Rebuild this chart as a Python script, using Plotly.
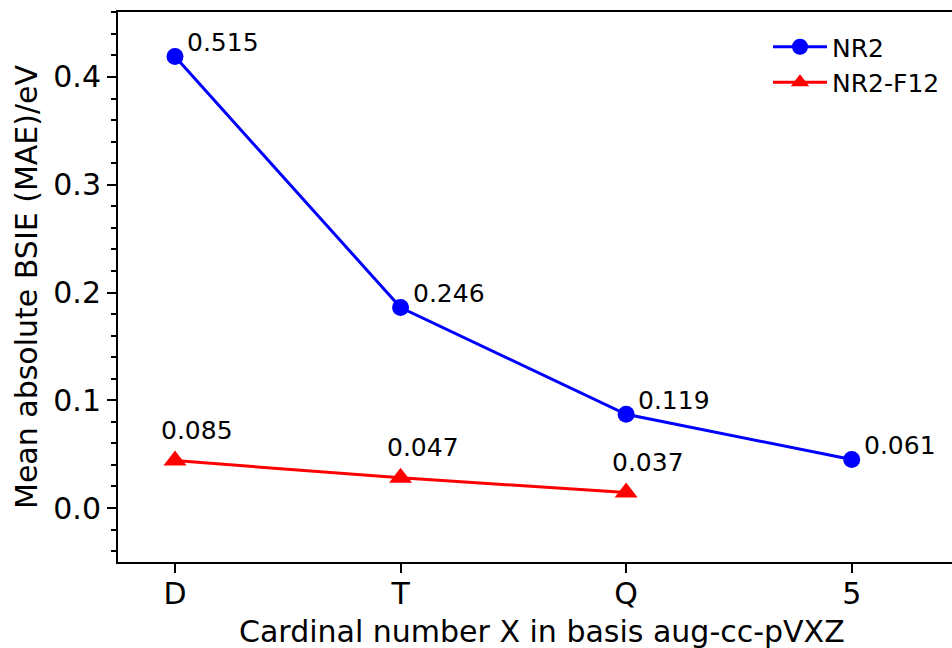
import plotly.graph_objects as go

# ---- data ----
categories = ["D", "T", "Q", "5"]
nr2_values = [0.419, 0.186, 0.087, 0.045]
nr2_labels = ["0.515", "0.246", "0.119", "0.061"]
f12_categories = ["D", "T", "Q"]
f12_values = [0.044, 0.028, 0.0145]
f12_labels = ["0.085", "0.047", "0.037"]
y_ticks = [0.0, 0.1, 0.2, 0.3, 0.4]

W, H = 952, 648
ML, MR, MT, MB = 118, 0, 12, 86
PW, PH = W - ML - MR, H - MT - MB

FONT = "DejaVu Sans"
BLUE = "#0000ff"
RED = "#ff0000"

fig = go.Figure()
fig.add_trace(go.Scatter(
    x=categories, y=nr2_values, name="NR2", mode="lines+markers",
    line=dict(color=BLUE, width=3),
    marker=dict(symbol="circle", size=17, color=BLUE),
))
fig.add_trace(go.Scatter(
    x=f12_categories, y=f12_values, name="NR2-F12", mode="lines+markers",
    line=dict(color=RED, width=3),
    marker=dict(symbol="triangle-up", size=20, color=RED),
))

annotations = []
for i, (v, t) in enumerate(zip(nr2_values, nr2_labels)):
    annotations.append(dict(x=i, y=v, xref="x", yref="y", text=t, showarrow=False,
                            xanchor="left", yanchor="middle", xshift=10, yshift=14,
                            font=dict(family=FONT, size=25, color="black")))
for i, (v, t) in enumerate(zip(f12_values, f12_labels)):
    annotations.append(dict(x=i, y=v, xref="x", yref="y", text=t, showarrow=False,
                            xanchor="left", yanchor="middle", xshift=-16, yshift=30,
                            font=dict(family=FONT, size=25, color="black")))

# axis titles
annotations.append(dict(x=(541.7 - ML) / PW, y=-(612 - (MT + PH)) / PH, xref="paper", yref="paper",
                        text="Cardinal number X in basis aug-cc-pVXZ", showarrow=False,
                        xanchor="center", yanchor="top",
                        font=dict(family=FONT, size=30, color="black")))
annotations.append(dict(x=(26 - ML) / PW, y=0.5, xref="paper", yref="paper",
                        text="Mean absolute BSIE (MAE)/eV", showarrow=False, textangle=-90,
                        xanchor="center", yanchor="middle",
                        font=dict(family=FONT, size=30, color="black")))

fig.update_layout(
    width=W, height=H, autosize=False,
    margin=dict(l=ML, r=MR, t=MT, b=MB, pad=0),
    paper_bgcolor="white", plot_bgcolor="white",
    font=dict(family=FONT, color="black"),
    showlegend=True,
    legend=dict(x=(768 - ML) / PW, y=(MT + PH - 24) / PH, xanchor="left", yanchor="top",
                bgcolor="rgba(0,0,0,0)", font=dict(family=FONT, size=25, color="black"),
                itemwidth=54, tracegroupgap=0),
    annotations=annotations,
)
fig.update_xaxes(
    type="category", range=[-0.2527, 3.4446],
    showline=True, linecolor="black", linewidth=2, mirror=True,
    ticks="outside", ticklen=9, tickwidth=2, tickcolor="black",
    tickfont=dict(family=FONT, size=30, color="black"),
    ticklabelstandoff=-5,
    showgrid=False, zeroline=False,
)
fig.update_yaxes(
    range=[-0.0501, 0.4603],
    tickvals=y_ticks, tickformat=".1f",
    showline=True, linecolor="black", linewidth=2, mirror=False,
    ticks="outside", ticklen=9, tickwidth=2, tickcolor="black",
    tickfont=dict(family=FONT, size=30, color="black"),
    minor=dict(dtick=0.02, tick0=0, ticks="outside", ticklen=5, tickwidth=1.5, tickcolor="black"),
    showgrid=False, zeroline=False,
)

fig.write_html(
    "out.html",
    config={"displayModeBar": False},
    post_script="document.body.style.margin='0';document.body.style.overflow='hidden';",
)
